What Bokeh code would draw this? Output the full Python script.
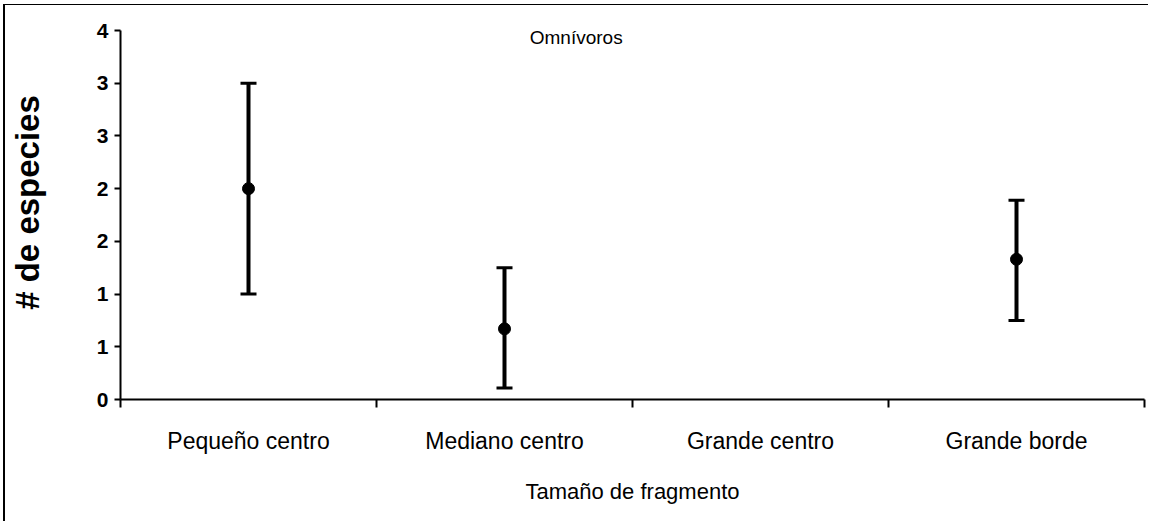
from bokeh.plotting import figure
from bokeh.models import FixedTicker, Label, Whisker, ColumnDataSource, Range1d, TeeHead
from bokeh.embed import file_html
from bokeh.resources import INLINE

categories = ["Pequeño centro", "Mediano centro", "Grande centro", "Grande borde"]
means = [2.0, 0.67, float("nan"), 1.33]
upper = [3.0, 1.25, float("nan"), 1.89]
lower = [1.0, 0.11, float("nan"), 0.75]
y_ticks = [0, 0.5, 1.0, 1.5, 2.0, 2.5, 3.0, 3.5]
y_tick_labels = ["0", "1", "1", "2", "2", "3", "3", "4"]
title_text = "Omnívoros"
x_title = "Tamaño de fragmento"
y_title = "# de especies"

xs = [i + 0.5 for i in range(len(categories))]
src = ColumnDataSource(dict(x=xs, m=means, up=upper, lo=lower))

y_max = y_ticks[-1]
frame_h = 394
y_top = y_max * frame_h / 369.0

p = figure(output_backend="svg", toolbar_location=None,
           frame_width=1024, frame_height=frame_h,
           min_border_left=115, min_border_top=0, min_border_right=4, min_border_bottom=122,
           x_range=Range1d(0, len(categories)), y_range=Range1d(0, y_top))
p.grid.visible = False
p.outline_line_color = None
p.background_fill_color = "white"
p.border_fill_color = "white"

w = Whisker(base="x", upper="up", lower="lo", source=src, line_width=4, line_color="black",
            upper_head=TeeHead(size=16, line_width=3, line_color="black"),
            lower_head=TeeHead(size=16, line_width=3, line_color="black"))
p.add_layout(w)
p.scatter("x", "m", source=src, marker="circle", size=12, color="black")

xa = p.xaxis[0]
xa.ticker = FixedTicker(ticks=xs, minor_ticks=list(range(len(categories) + 1)))
xa.major_label_overrides = {x: c for x, c in zip(xs, categories)}
xa.major_tick_out = 0
xa.major_tick_in = 0
xa.minor_tick_out = 8
xa.minor_tick_in = 0
xa.minor_tick_line_width = 2
xa.axis_line_width = 2
xa.major_label_text_font = "Liberation Sans"
xa.major_label_text_font_size = "23px"
xa.major_label_text_color = "black"
xa.major_label_standoff = 20
xa.axis_label = x_title
xa.axis_label_text_font = "Liberation Sans"
xa.axis_label_text_font_style = "normal"
xa.axis_label_text_font_size = "22px"
xa.axis_label_text_color = "black"
xa.axis_label_standoff = 22

ya = p.yaxis[0]
ya.ticker = FixedTicker(ticks=y_ticks)
ya.bounds = (0, y_max)
ya.major_label_overrides = {t: l for t, l in zip(y_ticks, y_tick_labels)}
ya.major_tick_out = 6
ya.major_tick_in = 0
ya.major_tick_line_width = 2
ya.minor_tick_out = 0
ya.minor_tick_in = 0
ya.axis_line_width = 2
ya.major_label_text_font = "Liberation Sans"
ya.major_label_text_font_style = "bold"
ya.major_label_text_font_size = "21px"
ya.major_label_text_color = "black"
ya.major_label_standoff = 6
ya.axis_label = y_title
ya.axis_label_text_font = "Liberation Sans"
ya.axis_label_text_font_style = "bold"
ya.axis_label_text_font_size = "33px"
ya.axis_label_text_color = "black"
ya.axis_label_standoff = 48

p.add_layout(Label(x=1.78, y=3.43, text=title_text, text_align="center", text_baseline="middle",
                   text_font="Liberation Sans", text_font_size="19px", text_color="black"))

p.styles = {"margin-left": "3px", "margin-top": "4px",
            "border-left": "2px solid black", "border-top": "1px solid black"}

open("out.html", "w").write(file_html(p, INLINE))
